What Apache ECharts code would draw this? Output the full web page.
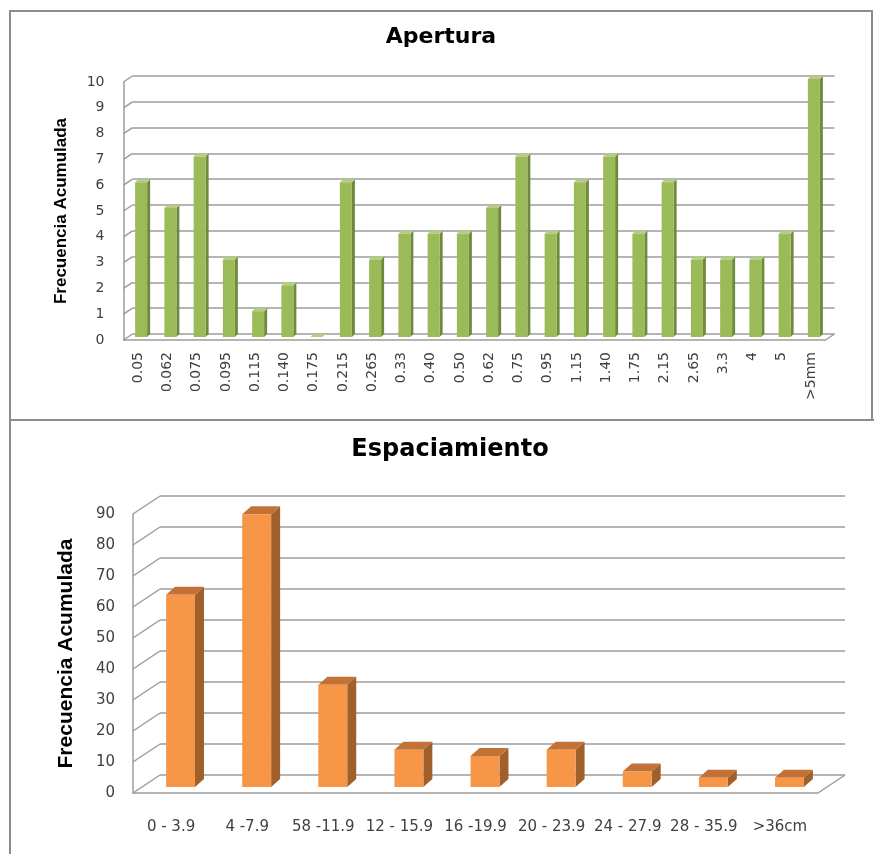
<!DOCTYPE html>
<html><head><meta charset="utf-8">
<script src="https://cdn.jsdelivr.net/npm/echarts@6/dist/echarts.min.js"></script>
<style>html,body{margin:0;padding:0;background:#fff}#c{width:874px;height:854px}</style>
</head><body><div id="c"></div>
<script>
// ---- data ----
const aperturaCategories = ['0.05','0.062','0.075','0.095','0.115','0.140','0.175','0.215','0.265','0.33','0.40','0.50','0.62','0.75','0.95','1.15','1.40','1.75','2.15','2.65','3.3','4','5','>5mm'];
const aperturaValues = [6,5,7,3,1,2,0,6,3,4,4,4,5,7,4,6,7,4,6,3,3,3,4,10];
const aperturaTicks = [0,1,2,3,4,5,6,7,8,9,10];
const espCategories = ['0 - 3.9','4 -7.9','58 -11.9','12 - 15.9','16 -19.9','20 - 23.9','24 - 27.9','28 - 35.9','>36cm'];
const espValues = [62,88,33,12,10,12,5,3,3];
const espTicks = [0,10,20,30,40,50,60,70,80,90];

// ---- layout ----
const GRID_COLOR = '#9c9c9c';
const T = {left:123.5, top:82, width:702, height:258, bar:{dx:3, dy:3}, wall:{dx:9, dy:6}, depth:{dx:3, dy:3}, bw:0.41};
const B = {left:133, top:514, width:685, height:279, bar:{dx:9.5, dy:6}, wall:{dx:27, dy:18}, depth:{dx:9, dy:8}, bw:0.38};

function gridsFor(L){
  return [
    {left:L.left, top:L.top, width:L.width, height:L.height},
    {left:L.left+L.bar.dx, top:L.top-L.bar.dy, width:L.width, height:L.height},
    {left:L.left+L.wall.dx, top:L.top-L.wall.dy, width:L.width, height:L.height}
  ];
}

function bar3d(colors, L){
  return function(params, api){
    const i = api.value(0), v = api.value(1);
    const base = api.coord([i, 0]);
    const top = api.coord([i, v]);
    const bw = api.size([1, 0])[0] * L.bw;
    const x0 = base[0] - bw/2, x1 = base[0] + bw/2, y0 = base[1], y1 = top[1];
    const dx = L.depth.dx, dy = L.depth.dy;
    return {type:'group', children:[
      {type:'polygon', shape:{points:[[x1,y1],[x1+dx,y1-dy],[x1+dx,y0-dy],[x1,y0]]}, style:{fill:colors.side}},
      {type:'polygon', shape:{points:[[x0,y1],[x0+dx,y1-dy],[x1+dx,y1-dy],[x1,y1]]}, style:{fill:colors.top}},
      {type:'rect', shape:{x:x0, y:y1, width:bw, height:Math.max(0, y0-y1)}, style:{fill:colors.front}}
    ]};
  };
}

function wallDecor(L, N){
  return function(params, api){
    const t = api.value(1);
    const p = api.coord([0, t]);
    const half = api.size([1, 0])[0] / 2;
    const xl = p[0] - half;
    const st = {stroke:GRID_COLOR, lineWidth:1.5};
    const children = [{type:'line', shape:{x1:xl, y1:p[1], x2:xl+L.wall.dx, y2:p[1]-L.wall.dy}, style:st}];
    if (t === 0) {
      const q = api.coord([N-1, 0]);
      const xr = q[0] + half;
      children.push({type:'line', shape:{x1:xr, y1:q[1], x2:xr+L.wall.dx, y2:q[1]-L.wall.dy}, style:st});
    }
    return {type:'group', children};
  };
}

const hiddenCat = (cats, gi) => ({type:'category', data:cats, gridIndex:gi, show:false});

const option = {
  animation:false,
  backgroundColor:'#fff',
  grid:[...gridsFor(T), ...gridsFor(B)],
  xAxis:[
    {type:'category', data:aperturaCategories, gridIndex:0,
     axisLine:{show:true, lineStyle:{color:GRID_COLOR, width:1.5}}, axisTick:{show:false},
     axisLabel:{interval:0, rotate:90, margin:12, fontSize:14, fontFamily:'DejaVu Sans', color:'#404040'}},
    hiddenCat(aperturaCategories,1),
    hiddenCat(aperturaCategories,2),
    {type:'category', data:espCategories, gridIndex:3,
     axisLine:{show:true, lineStyle:{color:GRID_COLOR, width:1.5}}, axisTick:{show:false},
     axisLabel:{interval:0, margin:27, fontSize:15, fontFamily:'DejaVu Sans', color:'#404040'}},
    hiddenCat(espCategories,4),
    hiddenCat(espCategories,5)
  ],
  yAxis:[
    {type:'value', gridIndex:0, min:0, max:10, interval:1,
     axisLine:{show:true, lineStyle:{color:GRID_COLOR, width:1.5}}, axisTick:{show:false}, splitLine:{show:false},
     axisLabel:{margin:19, fontSize:14, fontFamily:'DejaVu Sans', color:'#404040'},
     name:'Frecuencia Acumulada', nameLocation:'middle', nameRotate:90, nameGap:54,
     nameTextStyle:{fontSize:17, fontWeight:'bold', fontFamily:'Liberation Sans', color:'#000'}},
    {type:'value', gridIndex:1, min:0, max:10, interval:1, show:false},
    {type:'value', gridIndex:2, min:0, max:10, interval:1,
     axisLine:{show:false}, axisTick:{show:false}, axisLabel:{show:false},
     splitLine:{show:true, lineStyle:{color:GRID_COLOR, width:1.5}}},
    {type:'value', gridIndex:3, min:0, max:90, interval:10,
     axisLine:{show:true, lineStyle:{color:GRID_COLOR, width:1.5}}, axisTick:{show:false}, splitLine:{show:false},
     axisLabel:{margin:18, fontSize:15, fontFamily:'DejaVu Sans', color:'#404040'},
     name:'Frecuencia Acumulada', nameLocation:'middle', nameRotate:90, nameGap:56,
     nameTextStyle:{fontSize:21, fontWeight:'bold', fontFamily:'Liberation Sans', color:'#000'}},
    {type:'value', gridIndex:4, min:0, max:90, interval:10, show:false},
    {type:'value', gridIndex:5, min:0, max:90, interval:10,
     axisLine:{show:false}, axisTick:{show:false}, axisLabel:{show:false},
     splitLine:{show:true, lineStyle:{color:GRID_COLOR, width:1.5}}}
  ],
  series:[
    {type:'custom', name:'Apertura', xAxisIndex:1, yAxisIndex:1, clip:false, z:5,
     data:aperturaValues.map((v,i)=>[i,v]),
     renderItem:bar3d({front:'#9BBB59', side:'#6F8A3C', top:'#B4CD82'}, T)},
    {type:'custom', xAxisIndex:0, yAxisIndex:0, clip:false, z:1, silent:true,
     data:aperturaTicks.map(t=>[0,t]),
     renderItem:wallDecor(T, aperturaCategories.length)},
    {type:'custom', name:'Espaciamiento', xAxisIndex:4, yAxisIndex:4, clip:false, z:5,
     data:espValues.map((v,i)=>[i,v]),
     renderItem:bar3d({front:'#F79646', side:'#A0602C', top:'#C27236'}, B)},
    {type:'custom', xAxisIndex:3, yAxisIndex:3, clip:false, z:1, silent:true,
     data:espTicks.map(t=>[0,t]),
     renderItem:wallDecor(B, espCategories.length)}
  ],
  graphic:[
    {type:'rect', shape:{x:10, y:11, width:862, height:409}, style:{fill:'none', stroke:'#8c8c8c', lineWidth:2}, z:0},
    {type:'rect', shape:{x:10, y:420, width:900, height:500}, style:{fill:'none', stroke:'#8c8c8c', lineWidth:2}, z:0},
    {type:'text', x:441, y:37, style:{text:'Apertura', fontSize:22, fontWeight:'bold', fontFamily:'DejaVu Sans', fill:'#000', textAlign:'center', textVerticalAlign:'middle'}},
    {type:'text', x:450, y:450, style:{text:'Espaciamiento', fontSize:24, fontWeight:'bold', fontFamily:'DejaVu Sans', fill:'#000', textAlign:'center', textVerticalAlign:'middle'}}
  ]
};
const chart = echarts.init(document.getElementById('c'), null, {renderer:'canvas'});
chart.setOption(option);
</script></body></html>
